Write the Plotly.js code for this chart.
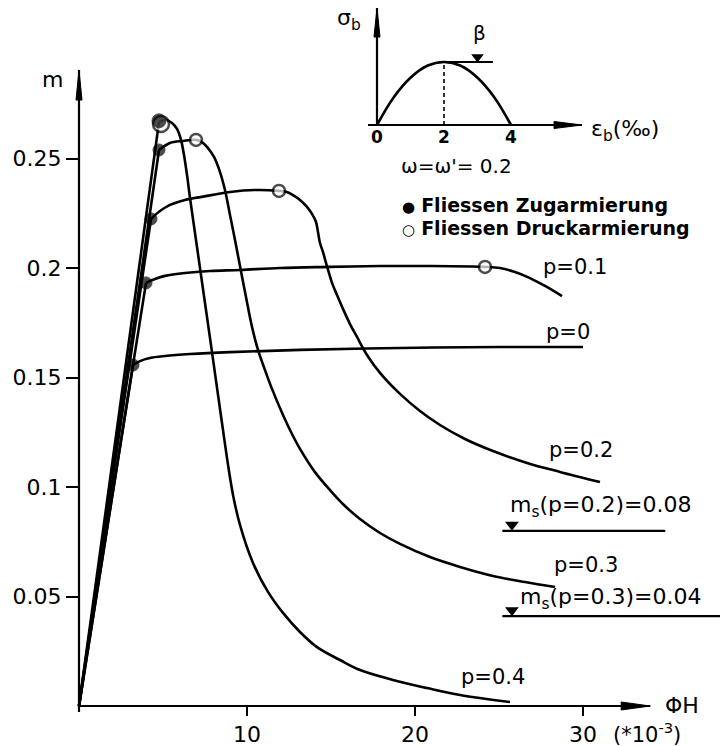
<!DOCTYPE html>
<html><head><meta charset="utf-8">
<script src="https://cdn.plot.ly/plotly-3.0.1.min.js"></script>
<style>html,body{margin:0;padding:0;background:#fff}</style>
</head><body><div id="chart" style="width:720px;height:746px"></div>
<script>
// ---- data ----
const p0X  = [0, 3.214, 3.631, 4.226, 5.119, 6.607, 8.988, 13.155, 19.107, 25.06, 30.0];
const p0Y  = [0, 0.1557, 0.1575, 0.1589, 0.1598, 0.1607, 0.1616, 0.1626, 0.1635, 0.1639, 0.1639];
const p01X = [0, 3.988, 4.524, 5.119, 6.31, 7.798, 9.583, 11.964, 14.94, 17.917, 20.893, 24.167, 25.06, 25.952, 26.845, 27.738, 28.75];
const p01Y = [0, 0.1932, 0.195, 0.1964, 0.1977, 0.1986, 0.1991, 0.2, 0.2005, 0.2009, 0.2009, 0.2005, 0.2, 0.1982, 0.1954, 0.1918, 0.1872];
const p02X = [0, 4.286, 4.821, 5.417, 6.31, 7.381, 8.988, 10.476, 11.905, 12.381, 12.738, 13.155, 13.571, 13.869, 14.107, 14.226, 14.345, 14.524, 14.702, 14.881, 15.06, 15.357, 15.714, 16.131, 16.548, 17.143, 17.917, 19.107, 20.298, 21.488, 22.976, 24.643, 26.667, 28.631, 31.012];
const p02Y = [0, 0.2224, 0.226, 0.2288, 0.2311, 0.2326, 0.2347, 0.2356, 0.2352, 0.2347, 0.2333, 0.2311, 0.2279, 0.2247, 0.221, 0.2164, 0.2114, 0.2073, 0.2023, 0.1977, 0.1932, 0.1877, 0.1813, 0.1744, 0.1685, 0.1603, 0.1521, 0.1425, 0.1347, 0.1283, 0.1219, 0.1164, 0.111, 0.1069, 0.1023];
const p03X = [0, 4.762, 5.417, 6.19, 6.964, 7.321, 7.619, 8.036, 8.393, 8.69, 8.988, 9.286, 9.583, 9.94, 10.298, 10.655, 11.071, 11.488, 12.143, 12.679, 13.155, 14.048, 14.94, 15.833, 16.726, 17.917, 19.107, 20.893, 22.679, 24.643, 26.548, 28.333];
const p03Y = [0, 0.2539, 0.2571, 0.258, 0.2585, 0.2575, 0.2553, 0.2507, 0.2438, 0.2356, 0.2242, 0.2128, 0.2009, 0.1868, 0.1731, 0.1626, 0.1534, 0.1448, 0.1329, 0.1242, 0.1174, 0.1068, 0.0986, 0.0913, 0.0854, 0.079, 0.074, 0.068, 0.0635, 0.0594, 0.0566, 0.0543];
const p04X = [0, 4.762, 5.179, 5.536, 5.833, 6.071, 6.25, 6.429, 6.607, 6.905, 7.202, 7.798, 8.393, 8.81, 9.167, 9.583, 10.357, 11.25, 12.143, 13.155, 14.167, 15.536, 16.726, 18.69, 20.714, 22.679, 25.655];
const p04Y = [0, 0.2667, 0.2676, 0.2662, 0.2635, 0.2585, 0.2516, 0.2425, 0.232, 0.216, 0.2, 0.168, 0.1356, 0.1132, 0.0964, 0.0827, 0.0653, 0.0521, 0.0425, 0.0338, 0.0269, 0.021, 0.0164, 0.0119, 0.0082, 0.005, 0.0018];

// yield points: tension reinforcement (filled) and compression reinforcement (open)
const yieldTensionX = [3.214, 3.988, 4.286, 4.762, 4.762];
const yieldTensionY = [0.1557, 0.1932, 0.2224, 0.2539, 0.2672];
const yieldCompX = [24.167, 11.905, 6.964, 4.88];
const yieldCompY = [0.2005, 0.2352, 0.2585, 0.2658];

// m_s levels
const msValues = [0.08, 0.041];
const msStart = [25.2, 25.2];
const msEnd = [34.9, 38.2];
const msMarkX = [25.77, 25.77];

// inset: sigma_b over eps_b (parabola), beta marker
const epsX = [0, 0.5, 1, 1.5, 2, 2.5, 3, 3.5, 4];
const sigY = [0, 0.44, 0.75, 0.94, 1, 0.94, 0.75, 0.44, 0];
const betaX = 3.0;
const betaLineEnd = 3.46;

const xTickVals = [10, 20, 30];
const xTickText = ['10', '20', '30'];
const yTickVals = [0.05, 0.1, 0.15, 0.2, 0.25];
const yTickText = ['0.05', '0.1', '0.15', '0.2', '0.25'];
const insetTickVals = [0, 2, 4];
const insetTickText = ['0', '2', '4'];

// ---- geometry (pixels) ----
const W = 720, H = 746;
const ox = 79, oy = 706;                     // main origin in px
const sx = 16.8, sy = 2190;                  // px per unit
const L = 70, R = 720, T = 0, B = 714;       // main plot area (a bit beyond the axes)
const xr = [(L - ox) / sx, (R - ox) / sx];
const yr = [(oy - B) / sy, (oy - T) / sy];
// inset
const iox = 377, ioy = 125, isx = 33.5, isy = 63;
const iL = 362, iR = 590, iT = 3, iB = 131;
const x2r = [(iL - iox) / isx, (iR - iox) / isx];
const y2r = [(ioy - iB) / isy, (ioy - iT) / isy];

const px = v => (v - L) / (R - L);
const py = v => (B - v) / (B - T);

const FONT = 'DejaVu Sans';
const black = '#000';
const LW = 2.6;

const traces = [];
function curve(x, y) {
  // straight elastic branch up to the first yield point, then the smooth branch
  traces.push({x: x.slice(0, 2), y: y.slice(0, 2), type: 'scatter', mode: 'lines',
    line: {color: black, width: LW}, hoverinfo: 'skip'});
  traces.push({x: x.slice(1), y: y.slice(1), type: 'scatter', mode: 'lines',
    line: {color: black, width: LW, shape: 'spline', smoothing: 1}, hoverinfo: 'skip'});
}
curve(p0X, p0Y); curve(p01X, p01Y); curve(p02X, p02Y); curve(p03X, p03Y); curve(p04X, p04Y);

msValues.forEach((v, i) => {
  traces.push({x: [msStart[i], msEnd[i]], y: [v, v], type: 'scatter', mode: 'lines',
    line: {color: black, width: 2.2}, hoverinfo: 'skip'});
});
traces.push({x: msMarkX, y: msValues.map(v => v + 6 / sy), type: 'scatter', mode: 'markers',
  marker: {symbol: 'triangle-down', size: 12, color: black}, hoverinfo: 'skip'});
traces.push({x: yieldCompX, y: yieldCompY, type: 'scatter', mode: 'markers',
  marker: {symbol: 'circle', size: [12, 12, 12, 16], color: '#fff', line: {color: black, width: 2.5}}, hoverinfo: 'skip'});
traces.push({x: yieldTensionX, y: yieldTensionY, type: 'scatter', mode: 'markers',
  marker: {symbol: 'circle', size: [12, 12, 12, 12, 14], color: black, line: {color: black, width: 1}}, hoverinfo: 'skip'});
// inset
traces.push({x: epsX, y: sigY, xaxis: 'x2', yaxis: 'y2', type: 'scatter', mode: 'lines',
  line: {color: black, width: 2.6, shape: 'spline', smoothing: 1}, hoverinfo: 'skip'});
traces.push({x: [2, 2], y: [0, 1], xaxis: 'x2', yaxis: 'y2', type: 'scatter', mode: 'lines',
  line: {color: black, width: 1.6, dash: '4px,3px'}, hoverinfo: 'skip'});
traces.push({x: [2, betaLineEnd], y: [1, 1], xaxis: 'x2', yaxis: 'y2', type: 'scatter', mode: 'lines',
  line: {color: black, width: 2}, hoverinfo: 'skip'});
traces.push({x: [betaX], y: [1 + 5 / isy], xaxis: 'x2', yaxis: 'y2', type: 'scatter', mode: 'markers',
  marker: {symbol: 'triangle-down', size: 11, color: black}, hoverinfo: 'skip'});

// axis lines with long slim arrow heads
function axisArrow(xref, yref, x0, y0, x1, y1, horizontal, len, half) {
  const head = horizontal ? `M${-len},${-half} L0,0 L${-len},${half} Z` : `M${-half},${-len} L0,0 L${half},${-len} Z`;
  return [
    {type: 'line', xref, yref, x0, y0, x1, y1, line: {color: black, width: 2.2}},
    {type: 'path', xref, yref, xsizemode: 'pixel', ysizemode: 'pixel', xanchor: x1, yanchor: y1,
      path: head, fillcolor: black, line: {color: black, width: 1}}
  ];
}
const shapes = [].concat(
  axisArrow('x', 'y', 0, 0, 34, 0, true, 29, 4),
  axisArrow('x', 'y', 0, -6 / sy, 0, 0.2904, false, 30, 3),
  axisArrow('x2', 'y2', (368 - iox) / isx, 0, (582 - iox) / isx, 0, true, 28, 3.5),
  axisArrow('x2', 'y2', 0, 0, 0, (ioy - 8) / isy, false, 29, 3)
);

function label(text, xpx, ypx, size, anchor, extra) {
  return Object.assign({xref: 'paper', yref: 'paper', x: px(xpx), y: py(ypx), text,
    showarrow: false, xanchor: anchor || 'left', yanchor: 'middle',
    font: {family: FONT, size: size || 21, color: black}}, extra || {});
}

const annotations = [
  label('m', 52, 79, 22, 'center'),
  label('ΦH', 682, 705, 22, 'center'),
  label('(*10<sup>-3</sup>)', 611, 733, 21, 'left'),
  label('p=0.1', 541, 267),
  label('p=0', 544, 332),
  label('p=0.2', 547, 450),
  label('p=0.3', 552, 565),
  label('p=0.4', 459, 677),
  label('m<sub>s</sub>(p=0.2)=0.08', 508, 507, 22),
  label('m<sub>s</sub>(p=0.3)=0.04', 518, 598, 22),
  label("ω=ω'= 0.2", 399, 166, 20),
  label('<span style="font-size:15px">●</span> <b>Fliessen Zugarmierung</b>', 400, 205, 19),
  label('<span style="font-size:15px">○</span> <b>Fliessen Druckarmierung</b>', 400, 228, 19),
  label('σ<sub>b</sub>', 349, 19, 22, 'center'),
  label('ε<sub>b</sub>(‰)', 589, 130, 22),
  label('β', 479, 33, 20, 'center')
];

const layout = {
  width: W, height: H,
  margin: {l: L, r: W - R, t: T, b: H - B, pad: 0},
  paper_bgcolor: '#fff', plot_bgcolor: 'rgba(0,0,0,0)',
  showlegend: false, hovermode: false,
  font: {family: FONT, color: black},
  xaxis: {domain: [0, 1], range: xr, anchor: 'free', position: py(oy),
    showgrid: false, zeroline: false, showline: false,
    ticks: 'outside', ticklen: 9, tickwidth: 2, tickcolor: black,
    tickvals: xTickVals, ticktext: xTickText, tickfont: {family: FONT, size: 22, color: black}},
  yaxis: {domain: [0, 1], range: yr, anchor: 'free', position: px(ox),
    showgrid: false, zeroline: false, showline: false,
    ticks: 'outside', ticklen: 13, tickwidth: 2, tickcolor: black,
    tickvals: yTickVals, ticktext: yTickText, tickfont: {family: FONT, size: 22, color: black}},
  xaxis2: {domain: [px(iL), px(iR)], range: x2r, anchor: 'free', position: py(ioy),
    showgrid: false, zeroline: false, showline: false, ticks: '',
    tickvals: insetTickVals, ticktext: insetTickText,
    tickfont: {family: FONT, size: 17, color: black, weight: 'bold'}},
  yaxis2: {domain: [py(iB), py(iT)], range: y2r, anchor: 'x2', showgrid: false, zeroline: false,
    showline: false, showticklabels: false, ticks: ''},
  shapes, annotations
};

Plotly.newPlot('chart', traces, layout, {staticPlot: true, displayModeBar: false});
</script>
</body></html>
